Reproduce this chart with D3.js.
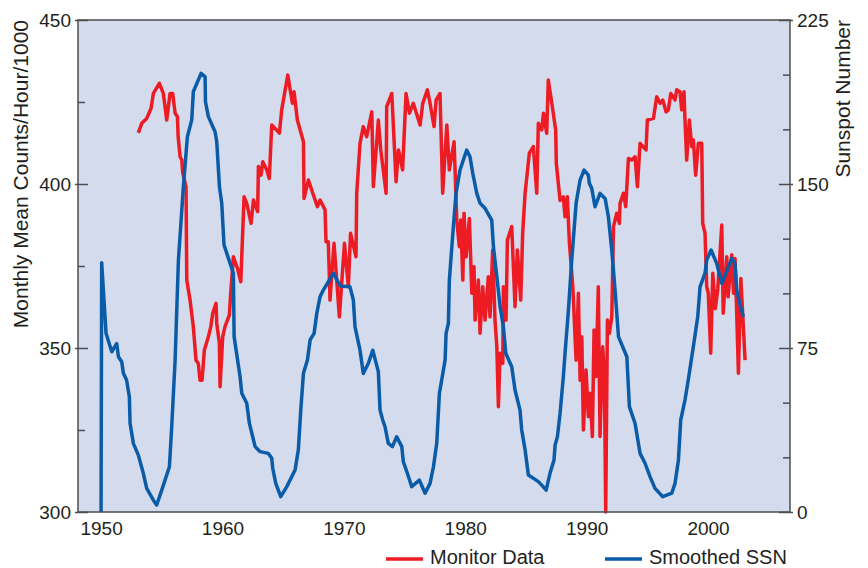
<!DOCTYPE html>
<html>
<head>
<meta charset="utf-8">
<script src="https://cdn.jsdelivr.net/npm/d3@7"></script>
<style>
  body { margin: 0; background: #fff; }
  text { font-family: "Liberation Sans", Arial, sans-serif; fill: #231f20; }
</style>
</head>
<body>
<svg></svg>
<script>
const svgWidth = 868;
const svgHeight = 568;

// monitor data (counts/hour/1000)
const monYears = [1953.07,1953.35,1953.76,1954.12,1954.31,1954.8,1955.13,1955.41,1955.68,1955.9,1956.1,1956.29,1956.35,1956.51,1956.65,1956.73,1957.0,1957.06,1957.33,1957.6,1957.82,1958.01,1958.15,1958.32,1958.51,1958.84,1959.04,1959.2,1959.47,1959.53,1959.75,1959.8,1960.02,1960.21,1960.57,1960.68,1960.9,1961.23,1961.51,1961.78,1962.0,1962.36,1962.55,1962.9,1962.96,1963.18,1963.32,1963.65,1963.86,1964.06,1964.69,1964.88,1965.38,1965.76,1965.9,1966.17,1966.67,1966.72,1967.08,1967.44,1967.82,1968.04,1968.45,1968.53,1968.72,1968.86,1969.19,1969.63,1970.05,1970.37,1970.55,1971.0,1971.06,1971.33,1971.6,1971.88,1972.3,1972.43,1972.84,1973.04,1973.48,1973.53,1973.95,1974.3,1974.5,1974.84,1975.12,1975.4,1975.72,1976.28,1976.5,1976.88,1977.1,1977.43,1977.6,1977.92,1978.14,1978.48,1978.69,1979.08,1979.3,1979.51,1979.63,1979.8,1979.9,1980.07,1980.34,1980.54,1980.72,1980.81,1981.08,1981.22,1981.44,1981.63,1981.9,1982.04,1982.26,1982.45,1982.6,1982.73,1982.87,1983.09,1983.14,1983.36,1983.47,1983.83,1984.1,1984.29,1984.57,1984.73,1984.93,1985.28,1985.61,1985.89,1986.02,1986.3,1986.44,1986.71,1986.84,1987.13,1987.45,1987.5,1987.81,1988.08,1988.22,1988.41,1988.58,1988.86,1989.13,1989.32,1989.46,1989.6,1989.73,1989.95,1990.14,1990.28,1990.47,1990.61,1990.77,1990.96,1991.1,1991.32,1991.46,1991.57,1991.71,1991.87,1992.07,1992.21,1992.48,1992.7,1992.75,1993.03,1993.22,1993.44,1993.71,1993.99,1994.18,1994.4,1994.89,1995.0,1995.5,1995.77,1996.05,1996.27,1996.54,1996.73,1996.93,1997.28,1997.42,1997.69,1997.83,1998.02,1998.1,1998.24,1998.46,1998.66,1998.79,1998.98,1999.2,1999.48,1999.56,1999.75,1999.89,2000.02,2000.22,2000.39,2000.6,2000.8,2001.13,2001.25,2001.54,2001.65,2001.95,2002.1,2002.22,2002.36,2002.5,2002.7,2003.05];
const monValues = [415.6,418.5,420,423.1,427.6,430.7,427.6,419.5,427.6,427.6,421.6,420.5,414.4,408.3,407.3,403.3,399.2,370.7,364.6,356.5,346.3,345.3,340.2,340.2,349.4,353.4,356.5,360.6,363.6,357.5,351.4,338.2,353.4,356.5,360.1,366.7,377.8,374.3,370.2,396.1,394.1,388,395.1,391.6,405.3,402.7,406.8,404.3,401.7,418,415.5,422.6,433.2,424.6,428.1,419.5,412.9,395.6,401.2,397.2,393.1,395.1,392.1,382.4,382.4,364.6,381.9,359.5,381.9,368.7,385,377.8,397.2,412.4,417.5,414.4,422,399.2,419.5,410.4,397.2,423.6,427.6,400.7,410.4,404.3,427.6,421.6,424.6,418,424.6,428.7,424.6,417.5,425.6,427.6,397.2,418,404.3,412.9,389,380.9,389,370.7,391.1,377.8,389.5,366.7,374.8,358.5,370.7,354.5,368.7,358.5,371.7,359.5,379.9,358.5,350.4,332.1,348.4,345.3,368.7,358.5,382.9,387,362.6,379.9,364.6,385,397.2,409.4,411.4,397.2,418.5,416.5,421.6,415.5,431.7,424.6,416.5,406.3,395,396.1,390,396.1,381.9,368.7,346.3,366.7,340.2,353.4,325,343.3,329.1,336.2,323,355.5,341.3,368.7,323,350.4,341.3,300,358.5,354.5,359.5,387,391.1,388,394.1,397.2,393.1,407.8,407.3,408.3,399.2,412.4,410.4,419.5,420,426.6,424.6,425.6,422,422.6,427.6,425.6,428.7,428.1,422.6,428.1,419.5,407.3,419.5,411.4,413.4,402.7,412.4,412.4,388,385,368.7,366.7,348.4,372.8,362,368,387.5,360.6,377.8,365.6,378.4,366.7,377.3,360.6,342.3,371.2,346.3];

// smoothed sunspot number
const ssnYears = [1950.0,1950.05,1950.41,1950.88,1951.29,1951.43,1951.7,1951.84,1952.1,1952.33,1952.39,1952.66,1953.07,1953.48,1953.76,1954.3,1954.58,1955.0,1955.63,1955.82,1956.1,1956.37,1956.78,1957.11,1957.47,1957.6,1958.24,1958.57,1958.6,1958.84,1959.39,1959.53,1959.75,1959.94,1960.13,1960.63,1960.9,1960.96,1961.45,1961.59,1962.0,1962.22,1962.69,1963.1,1963.78,1964.06,1964.14,1964.39,1964.8,1965.3,1965.98,1966.25,1966.45,1966.67,1967.0,1967.22,1967.55,1967.77,1968.04,1968.31,1969.14,1969.7,1970.5,1970.78,1970.92,1971.33,1971.6,1972.02,1972.38,1972.84,1972.98,1973.2,1973.39,1973.66,1974.0,1974.35,1974.77,1974.9,1975.23,1975.59,1976.22,1976.69,1977.1,1977.38,1977.65,1977.87,1978.06,1978.34,1978.42,1978.61,1978.69,1979.02,1979.24,1979.57,1979.84,1980.12,1980.39,1980.62,1980.95,1981.22,1981.63,1982.18,1982.32,1982.6,1982.87,1983.14,1983.34,1983.83,1984.1,1984.51,1984.65,1984.93,1985.2,1986.02,1986.3,1986.66,1986.98,1987.31,1987.4,1987.59,1987.81,1988.08,1988.22,1988.5,1988.77,1989.13,1989.46,1989.79,1990.14,1990.22,1990.42,1990.69,1991.1,1991.52,1991.79,1992.07,1992.34,1992.62,1993.31,1993.52,1993.99,1994.4,1994.81,1995.22,1995.63,1996.27,1997.01,1997.28,1997.56,1997.75,1998.1,1998.37,1998.66,1998.87,1999.15,1999.34,1999.75,1999.89,2000.25,2000.71,2001.13,2001.54,2001.95,2002.22,2002.36,2002.64,2002.91];
const ssnValues = [0,114,81.7,73.3,77,71,68.7,63.4,60.4,52.7,40.5,31.4,26,17.7,10.8,5.5,3.2,10,20.7,39,69.5,115,148.8,171.6,179.3,192.2,200.6,199,187.6,180.8,173.9,169.3,148.8,141.2,122.1,113.7,109.2,80.2,61.9,54.3,49.7,40.5,29.9,27.6,26.8,24.6,20,13.1,7,11.6,19.2,28.4,46.6,63.4,69.5,78.7,81.7,90.9,98.5,101.5,109.2,103.4,103,97,84.7,74,63.4,68,74,64.2,46.6,42.1,39,31.4,29.9,34.4,29.9,23,17.7,11.6,14.6,8.6,13.1,20.7,31.4,54.3,60.4,69.5,81.7,86.3,106.1,130.5,145.7,156.4,161,165.5,162.5,154.9,145.7,141.2,138.9,133.5,121.3,107.6,93.9,84.7,72.6,66.4,55.8,46.6,37.5,28.4,16.9,13.9,12.3,10,17.7,23.8,30.6,34.4,45.1,61.9,72.6,92.4,115.2,141.2,151.8,156.4,154.1,150.3,148,139.6,145.7,143.4,135,119.8,101.5,80.2,71,48.2,40.5,26.8,22.3,16.2,10.8,7,8.6,13.1,23.8,42.1,51.2,60.4,71,78.7,89.3,103,109.2,115.2,119.8,113.7,104.6,109.9,116,113.7,101.5,94.7,89.3];

const leftTicks = [300, 350, 400, 450];
const leftMinor = [325, 375, 425];
const rightTicks = [0, 75, 150, 225];
const rightMinor = [25, 50, 100, 125, 175, 200];
const yearTicks = [1950, 1960, 1970, 1980, 1990, 2000];

const plotLeft = 78, plotRight = 790, plotTop = 20, plotBottom = 512;

const svg = d3.select('svg')
  .attr("width", svgWidth)
  .attr("height", svgHeight);

const x = d3.scaleLinear().domain([1948.1, 2006.75]).range([plotLeft, plotRight]);
const yL = d3.scaleLinear().domain([300, 450]).range([plotBottom, plotTop]);
const yR = d3.scaleLinear().domain([0, 225]).range([plotBottom, plotTop]);

svg.append("rect")
  .attr("x", plotLeft).attr("y", plotTop)
  .attr("width", plotRight - plotLeft).attr("height", plotBottom - plotTop)
  .attr("fill", "#d3dbed");

const plot = svg.append("g");

const monLine = d3.line()
  .x(function(d, i) { return x(monYears[i]); })
  .y(function(d) { return yL(d); });

const ssnLine = d3.line()
  .x(function(d, i) { return x(ssnYears[i]); })
  .y(function(d) { return yR(d); });

plot.append("path")
  .attr("d", monLine(monValues))
  .attr("fill", "none")
  .attr("stroke", "#ed1c24")
  .attr("stroke-width", 3.5)
  .attr("stroke-linejoin", "round");

plot.append("path")
  .attr("d", ssnLine(ssnValues))
  .attr("fill", "none")
  .attr("stroke", "#0a5ba8")
  .attr("stroke-width", 3.5)
  .attr("stroke-linejoin", "round");

// frame
svg.append("rect")
  .attr("x", plotLeft).attr("y", plotTop)
  .attr("width", plotRight - plotLeft).attr("height", plotBottom - plotTop)
  .attr("fill", "none")
  .attr("stroke", "#4d4d4f")
  .attr("stroke-width", 1.5);

function styleAxis(g) {
  g.select(".domain").remove();
  g.selectAll("line").attr("stroke", "#4d4d4f").attr("stroke-width", 1.5);
  g.selectAll("text").attr("font-size", 19).attr("fill", "#231f20")
    .attr("font-family", "\"Liberation Sans\", Arial, sans-serif");
}

// left axis
svg.append("g")
  .attr("transform", "translate(" + plotLeft + ",0)")
  .call(d3.axisLeft(yL).tickValues(leftTicks).tickSize(-10).tickPadding(8))
  .call(styleAxis)
  .call(function(g) {
    g.selectAll(".tick line").attr("x1", -3);
    g.selectAll(".tick text").attr("x", -7);
  });
svg.append("g")
  .attr("transform", "translate(" + plotLeft + ",0)")
  .call(d3.axisLeft(yL).tickValues(leftMinor).tickSize(-7).tickFormat(""))
  .call(styleAxis);

// right axis
svg.append("g")
  .attr("transform", "translate(" + plotRight + ",0)")
  .call(d3.axisRight(yR).tickValues(rightTicks).tickSize(-11).tickPadding(8))
  .call(styleAxis)
  .call(function(g) {
    g.selectAll(".tick line").attr("x1", 3);
    g.selectAll(".tick text").attr("x", 7);
  });
svg.append("g")
  .attr("transform", "translate(" + plotRight + ",0)")
  .call(d3.axisRight(yR).tickValues(rightMinor).tickSize(-7).tickFormat(""))
  .call(styleAxis);

// bottom axis (labels only)
svg.append("g")
  .attr("transform", "translate(0," + plotBottom + ")")
  .call(d3.axisBottom(x).tickValues(yearTicks).tickSize(0).tickPadding(10).tickFormat(d3.format("d")))
  .call(styleAxis);

// axis titles
svg.append("text")
  .attr("transform", "translate(28," + plotTop + ") rotate(-90)")
  .attr("text-anchor", "end")
  .attr("font-size", 21)
  .text("Monthly Mean Counts/Hour/1000");

svg.append("text")
  .attr("transform", "translate(850," + plotTop + ") rotate(-90)")
  .attr("text-anchor", "end")
  .attr("font-size", 21)
  .text("Sunspot Number");

// legend
const legend = [
  { label: "Monitor Data", color: "#ed1c24", x: 386 },
  { label: "Smoothed SSN", color: "#0a5ba8", x: 605 }
];
const lg = svg.selectAll(".legend").data(legend).enter().append("g")
  .attr("transform", function(d) { return "translate(" + d.x + ",559)"; });
lg.append("line")
  .attr("x1", 0).attr("x2", 37)
  .attr("stroke", function(d) { return d.color; })
  .attr("stroke-width", 3.5);
lg.append("text")
  .attr("x", 44).attr("y", 5)
  .attr("font-size", 20)
  .text(function(d) { return d.label; });
</script>
</body>
</html>
